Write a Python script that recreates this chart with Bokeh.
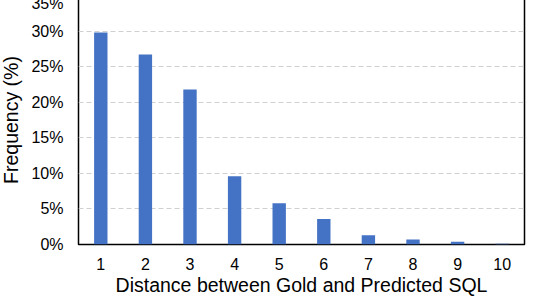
from bokeh.plotting import figure
from bokeh.models import FactorRange, Range1d, FixedTicker, PrintfTickFormatter, ColumnDataSource
from bokeh.embed import file_html
from bokeh.resources import INLINE

distances = ["1", "2", "3", "4", "5", "6", "7", "8", "9", "10"]
frequency = [29.8, 26.7, 21.8, 9.6, 5.8, 3.6, 1.3, 0.7, 0.4, 0.1]
y_ticks = [0, 5, 10, 15, 20, 25, 30, 35]
x_title = "Distance between Gold and Predicted SQL"
y_title = "Frequency (%)"

src = ColumnDataSource(dict(x=distances, y=frequency))

p = figure(x_range=FactorRange(*distances), y_range=Range1d(0, 35),
           width=530, height=304, output_backend="svg", toolbar_location=None,
           min_border_left=78, min_border_right=3, min_border_top=1, min_border_bottom=0)
p.styles = {"margin-top": "-6px", "margin-left": "-3px", "margin-bottom": "-12px"}

p.vbar(x="x", top="y", width=0.3, source=src, fill_color="#4472C4", line_color=None)

p.outline_line_color = "black"
p.outline_line_width = 1.5
p.outline_line_alpha = 1.0

FONT = "Liberation Sans"
for ax in (p.xaxis[0], p.yaxis[0]):
    ax.axis_line_color = None
    ax.major_tick_line_color = None
    ax.minor_tick_line_color = None
    ax.major_tick_out = 0
    ax.major_tick_in = 0
    ax.major_label_text_font = FONT
    ax.major_label_text_font_size = "16px"
    ax.major_label_text_color = "#000000"
    ax.major_label_text_line_height = 1.0
    ax.axis_label_text_font = FONT
    ax.axis_label_text_font_size = "19.5px"
    ax.axis_label_text_font_style = "normal"
    ax.axis_label_text_color = "#000000"
    ax.axis_label_text_line_height = 1.0

p.yaxis.ticker = FixedTicker(ticks=y_ticks)
p.yaxis.formatter = PrintfTickFormatter(format="%d%%")
p.yaxis.axis_label = y_title
p.yaxis.major_label_standoff = 15
p.yaxis.axis_label_standoff = 6

p.xaxis.axis_label = x_title
p.xaxis.major_label_standoff = 13
p.xaxis.axis_label_standoff = 1

p.xgrid.grid_line_color = None
p.ygrid.grid_line_color = "#d0d0d0"
p.ygrid.grid_line_dash = "5 3"
p.ygrid.grid_line_width = 1

open("out.html", "w").write(file_html(p, INLINE))
